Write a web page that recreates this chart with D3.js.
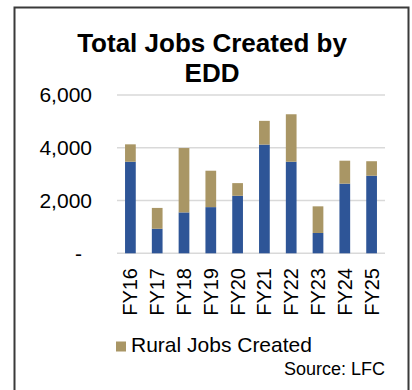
<!DOCTYPE html>
<html>
<head>
<meta charset="utf-8">
<script src="https://cdn.jsdelivr.net/npm/d3@7"></script>
<style>
  html, body { margin: 0; padding: 0; background: #fff; }
  svg { display: block; font-family: "Liberation Sans", Arial, sans-serif; }
</style>
</head>
<body>
<svg id="chart" width="412" height="390"></svg>
<script>
// Fiscal years and jobs created, split into the base share and the rural share
const years = ["FY16", "FY17", "FY18", "FY19", "FY20", "FY21", "FY22", "FY23", "FY24", "FY25"];
const otherJobs = [3470, 930, 1550, 1750, 2180, 4120, 3470, 770, 2640, 2940];
const ruralJobs = [660, 790, 2440, 1380, 480, 900, 1800, 1010, 870, 550];
const yTicks = [0, 2000, 4000, 6000];

const svg = d3.select("#chart");

// Outer frame
svg.append("path")
  .attr("d", "M14.5,390 L14.5,7.5 L408.5,7.5 L408.5,390")
  .attr("fill", "none")
  .attr("stroke", "#3a3a3a")
  .attr("stroke-width", 2);

// Title
const title = svg.append("text")
  .attr("text-anchor", "middle")
  .attr("font-weight", "bold")
  .attr("font-size", 26)
  .attr("fill", "#000");
title.append("tspan").attr("x", 212).attr("y", 52).text("Total Jobs Created by");
title.append("tspan").attr("x", 212).attr("y", 82).text("EDD");

const x = d3.scaleBand().domain(years).range([117, 385]).paddingInner(0.6).paddingOuter(0.3);
const y = d3.scaleLinear().domain([0, 6000]).range([253.3, 95]);

// Gridlines
svg.append("g")
  .selectAll("line")
  .data(yTicks)
  .join("line")
  .attr("x1", 117).attr("x2", 385)
  .attr("y1", d => y(d)).attr("y2", d => y(d))
  .attr("stroke", "#d9d9d9")
  .attr("stroke-width", 1.5);

// Y axis labels
const yAxis = d3.axisLeft(y)
  .tickValues(yTicks)
  .tickSize(0)
  .tickPadding(0)
  .tickFormat(d => d === 0 ? "-" : d3.format(",")(d));
const gy = svg.append("g").attr("transform", "translate(92,0)").call(yAxis);
gy.select(".domain").remove();
gy.selectAll("text")
  .attr("font-size", 21)
  .attr("fill", "#000")
  .attr("font-family", "Liberation Sans, Arial, sans-serif");
gy.selectAll(".tick").filter(d => d === 0).select("text").attr("dx", -10);

// Stacked bars
const rows = years.map((yr, i) => ({ year: yr, other: otherJobs[i], rural: ruralJobs[i] }));
const stack = d3.stack().keys(["other", "rural"])(rows);
const colors = { other: "#2E5597", rural: "#A99665" };

svg.append("g")
  .selectAll("g")
  .data(stack)
  .join("g")
  .attr("fill", d => colors[d.key])
  .selectAll("rect")
  .data(d => d)
  .join("rect")
  .attr("x", d => x(d.data.year))
  .attr("width", x.bandwidth())
  .attr("y", d => y(d[1]))
  .attr("height", d => y(d[0]) - y(d[1]));

// X axis labels, rotated
const xAxis = d3.axisBottom(x).tickSize(0).tickPadding(0);
const gx = svg.append("g").attr("transform", "translate(0,266)").call(xAxis);
gx.select(".domain").remove();
gx.selectAll("text")
  .attr("font-size", 20)
  .attr("fill", "#000")
  .attr("font-family", "Liberation Sans, Arial, sans-serif")
  .attr("transform", "rotate(-90)")
  .attr("text-anchor", "end")
  .attr("x", 0)
  .attr("y", 0)
  .attr("dy", "0.35em")
  .attr("dx", -2);

// Legend
svg.append("rect")
  .attr("x", 116).attr("y", 341.5)
  .attr("width", 10).attr("height", 10)
  .attr("fill", colors.rural);
svg.append("text")
  .attr("x", 131).attr("y", 352)
  .attr("font-size", 21)
  .attr("fill", "#000")
  .text("Rural Jobs Created");

// Source note
svg.append("text")
  .attr("x", 385).attr("y", 375)
  .attr("text-anchor", "end")
  .attr("font-size", 18)
  .attr("fill", "#000")
  .text("Source: LFC");
</script>
</body>
</html>
